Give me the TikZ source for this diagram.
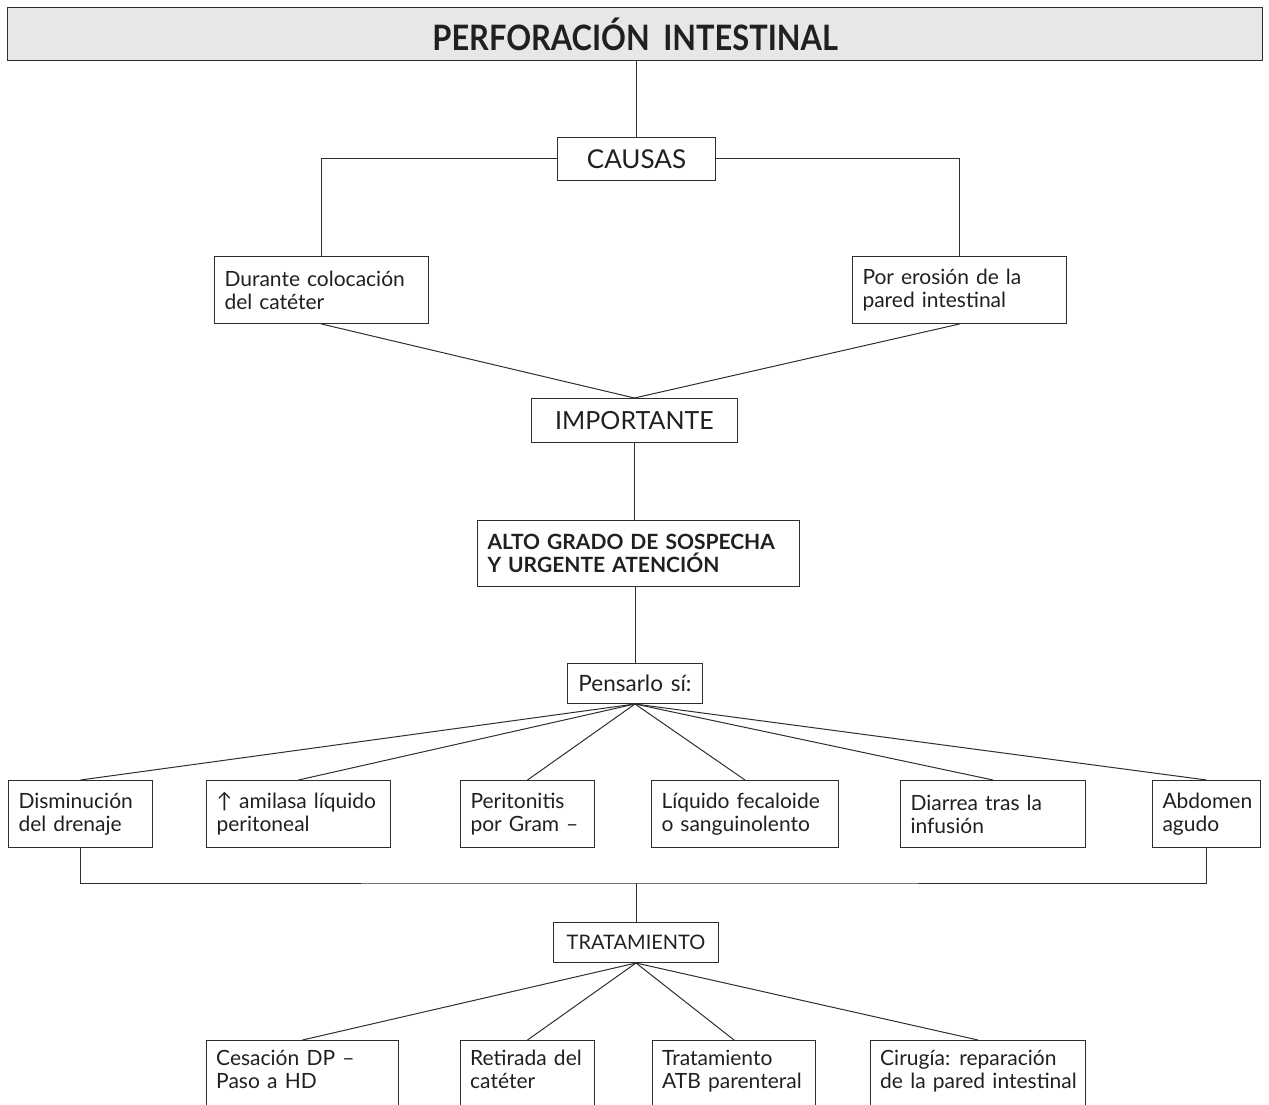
\documentclass[tikz,border=0pt]{standalone}
\usepackage{fontspec}
\setmainfont{Lato}[WordSpace=1.35]
\newfontfamily\titlefont{Lato}[FakeStretch=0.88,WordSpace=1.8]
\definecolor{ink}{HTML}{231F20}
\definecolor{linec}{HTML}{2E2E2E}
\definecolor{headfill}{HTML}{E6E7E8}
\begin{document}
\begin{tikzpicture}[x=1pt,y=-1pt,
  body/.style={font=\fontsize{21}{23}\selectfont},
  box/.style={draw=linec, line width=1pt, anchor=north west, inner xsep=10pt,
    inner ysep=0pt, align=left, text=ink, body},
  cbox/.style={draw=linec, line width=1pt, anchor=north west, inner sep=0pt,
    align=center, text=ink},
  frame/.style={draw=linec, line width=1pt, anchor=north west, inner sep=0pt},
  txt/.style={anchor=north west, inner sep=0pt, align=left, text=ink, body},
  link/.style={draw=linec, line width=1pt}]
\useasboundingbox (0,0) rectangle (1269,1105);
\clip (0,0) rectangle (1269,1105);

% heading
\node[draw=linec, line width=1.4pt, fill=headfill, anchor=north west, inner sep=0pt,
  minimum width=1255, minimum height=53, text=ink,
  font=\titlefont\bfseries\fontsize{35}{37}\selectfont] (title) at (7,7)
  {PERFORACIÓN INTESTINAL};

% causes
\node[cbox, minimum width=158, minimum height=43, font=\fontsize{26}{28}\selectfont]
  (causas) at (557,137) {CAUSAS};
\node[box, minimum width=214, minimum height=67, text width=194] (dur) at (214,256)
  {Durante colocación\\del catéter};
\node[box, minimum width=214, minimum height=67, text width=194] (ero) at (852,256)
  {Por erosión de la\\pared intestinal};

\node[cbox, minimum width=206, minimum height=44, font=\fontsize{25}{27}\selectfont]
  (imp) at (531,398) {IMPORTANTE};

\node[box, minimum width=322, minimum height=66, text width=302,
  font=\bfseries\fontsize{21}{23}\selectfont] (alto) at (477,520)
  {ALTO GRADO DE SOSPECHA\\Y URGENTE ATENCIÓN};

\node[cbox, minimum width=135, minimum height=40, font=\fontsize{22.5}{24}\selectfont]
  (pens) at (567,663) {Pensarlo sí:};

% signs
\node[box, minimum width=144, minimum height=67, text width=124] (s1) at (8,780)
  {Disminución\\del drenaje};
\node[box, minimum width=184, minimum height=67, text width=164] (s2) at (206,780)
  {↑ amilasa líquido\\peritoneal};
\node[box, minimum width=134, minimum height=67, text width=114] (s3) at (460,780)
  {Peritonitis\\por Gram –};
\node[box, minimum width=187, minimum height=67, text width=167] (s4) at (651,780)
  {Líquido fecaloide\\o sanguinolento};
\node[box, minimum width=185, minimum height=67, text width=165] (s5) at (900,780)
  {Diarrea tras la\\infusión};
\node[box, minimum width=108, minimum height=67, text width=88] (s6) at (1152,780)
  {Abdomen\\agudo};

\node[cbox, minimum width=165, minimum height=40, font=\fontsize{20}{22}\selectfont]
  (trat) at (553,922) {TRATAMIENTO};

% treatment boxes run past the lower edge
\node[frame, minimum width=192, minimum height=90] (t1) at (206,1040) {};
\node[txt] (t1txt) at ([xshift=10pt,yshift=-10pt]t1.north west) {Cesación DP –\\Paso a HD};
\node[frame, minimum width=134, minimum height=90] (t2) at (460,1040) {};
\node[txt] (t2txt) at ([xshift=10pt,yshift=-10pt]t2.north west) {Retirada del\\catéter};
\node[frame, minimum width=163, minimum height=90] (t3) at (652,1040) {};
\node[txt] (t3txt) at ([xshift=10pt,yshift=-10pt]t3.north west) {Tratamiento\\ATB parenteral};
\node[frame, minimum width=215, minimum height=90] (t4) at (870,1040) {};
\node[txt] (t4txt) at ([xshift=10pt,yshift=-10pt]t4.north west) {Cirugía: reparación\\de la pared intestinal};

% connectors
\draw[link] (title.south -| causas.north) -- (causas.north);
\draw[link] (causas.west) -| (dur.north);
\draw[link] (causas.east) -| (ero.north);
\draw[link] (dur.south) -- (imp.north);
\draw[link] (ero.south) -- (imp.north);
\draw[link] (imp.south) -- (imp.south |- alto.north);
\draw[link] (alto.south -| pens.north) -- (pens.north);
\foreach \s in {s1,s2,s3,s4,s5,s6}
  \draw[link] (pens.south) -- (\s.north);
\coordinate (join) at (trat.north |- 0,883);
\draw[link] (s1.south) |- (join) -| (s6.south);
\draw[link] (join) -- (trat.north);
\foreach \t in {t1,t2,t3,t4}
  \draw[link] (trat.south) -- (\t.north);
\end{tikzpicture}
\end{document}
